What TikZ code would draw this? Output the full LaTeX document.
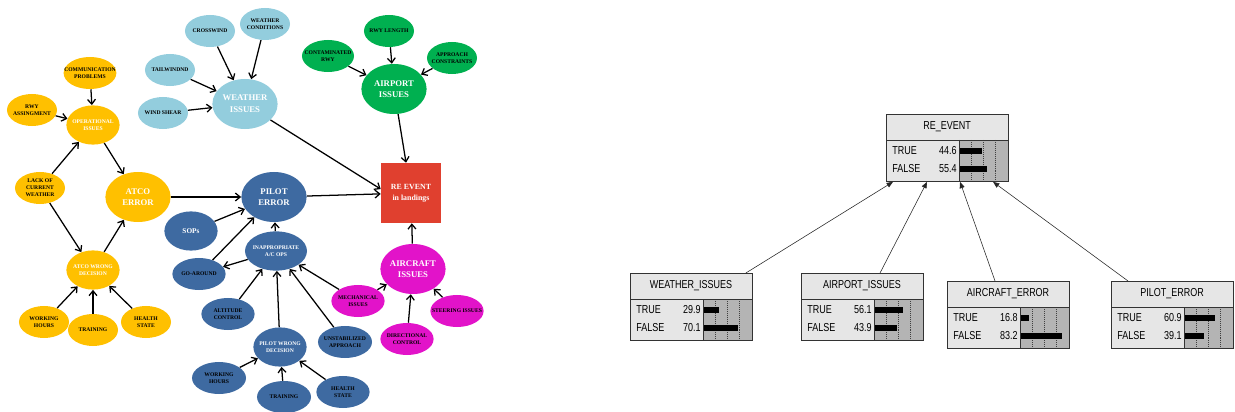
\documentclass[tikz,border=0pt]{standalone}
\usepackage{fontspec}
\setmainfont{Liberation Serif}
\newfontfamily\bnfont[FakeStretch=0.78]{Liberation Sans}
\usetikzlibrary{shapes.geometric,arrows.meta,positioning}

\definecolor{atcocol}{HTML}{FFC000}
\definecolor{weathercol}{HTML}{93CDDD}
\definecolor{airportcol}{HTML}{00B050}
\definecolor{pilotcol}{HTML}{3E6AA1}
\definecolor{aircraftcol}{HTML}{E213C9}
\definecolor{eventcol}{HTML}{E0402F}
\definecolor{bnlight}{HTML}{E6E6E6}
\definecolor{bndark}{HTML}{B4B4B4}

% probability table: name, top left corner, title, TRUE, FALSE
\newcommand{\probtable}[5]{%
  \begin{scope}[shift={#2}]
    \node[draw=black!80,line width=0.6pt,minimum width=3.05cm,minimum height=1.675cm,inner sep=0,anchor=north west] (#1) at (0,0) {};
    \fill[bnlight] (0,0) rectangle (122,67);
    \fill[bndark] (73,26) rectangle (122,67);
    \foreach \f in {12.25,24.5,36.75}
      \draw[densely dotted,black!75,line width=0.4pt] (73+\f,26) -- (73+\f,67);
    \fill (74,34) rectangle ({74+0.49*#4},40);
    \fill (74,52) rectangle ({74+0.49*#5},58);
    \node[bntext] at (61,13) {#3};
    \node[bntext,anchor=west] at (6,37) {TRUE};
    \node[bntext,anchor=east] at (71,37) {#4};
    \node[bntext,anchor=west] at (6,55) {FALSE};
    \node[bntext,anchor=east] at (71,55) {#5};
    \draw[black!80,line width=0.6pt] (0,0) rectangle (122,67);
    \draw[black!80,line width=0.6pt] (0,26) -- (122,26);
    \draw[black!80,line width=0.6pt] (73,26) -- (73,67);
  \end{scope}}

\begin{document}
\begin{tikzpicture}[x=0.025cm,y=-0.025cm,
    cause/.style={ellipse,inner sep=-6pt,minimum width=1.25cm,minimum height=0.8cm,align=center,
      font=\fontsize{4}{5}\selectfont\bfseries,text=black},
    factor/.style={ellipse,inner sep=-6pt,minimum width=1.33cm,minimum height=0.98cm,align=center,
      font=\fontsize{4}{5}\selectfont\bfseries,text=white},
    issue/.style={ellipse,inner sep=-6pt,minimum width=1.63cm,minimum height=1.25cm,align=center,
      font=\fontsize{6.2}{8.3}\selectfont\bfseries,text=white},
    arr/.style={-{Straight Barb[length=3.4pt,width=5.6pt]},line width=0.9pt},
    bnarr/.style={-{Triangle[length=4.5pt,width=3.6pt]},line width=0.4pt,black!85},
    bntext/.style={inner sep=0,font=\bnfont\fontsize{8.2}{9}\selectfont,text=black}]
	\useasboundingbox (0,0) rectangle (1235,412);
	% ATCO side
	\node[cause,fill=atcocol,minimum width=1.32cm] (comm) at (90,73) {COMMUNICATION\\PROBLEMS};
	\node[cause,fill=atcocol] (rwya) at (32,110) {RWY\\ASSINGMENT};
	\node[factor,fill=atcocol] (opis) at (93,125) {OPERATIONAL\\ISSUES};
	\node[cause,fill=atcocol] (lack) at (40,188) {LACK OF\\CURRENT\\WEATHER};
	\node[issue,fill=atcocol] (atco) at (138,197) {ATCO\\ERROR};
	\node[factor,fill=atcocol] (atcowd) at (93,270) {ATCO WRONG\\DECISION};
	\node[cause,fill=atcocol] (awh) at (44,322) {WORKING\\HOURS};
	\node[cause,fill=atcocol] (atr) at (93,330) {TRAINING};
	\node[cause,fill=atcocol] (ahs) at (146,322) {HEALTH\\STATE};
	% weather
	\node[cause,fill=weathercol] (cross) at (210,31) {CROSSWIND};
	\node[cause,fill=weathercol] (wcond) at (265,24) {WEATHER\\CONDITIONS};
	\node[cause,fill=weathercol] (tail) at (170,70) {TAILWINDND};
	\node[cause,fill=weathercol] (shear) at (163,113) {WIND SHEAR};
	\node[issue,fill=weathercol] (wiss) at (245,104) {WEATHER\\ISSUES};
	% airport
	\node[cause,fill=airportcol,minimum width=1.3cm] (contam) at (328,56) {CONTAMINATED\\RWY};
	\node[cause,fill=airportcol] (rwyl) at (389,31) {RWY LENGTH};
	\node[cause,fill=airportcol] (appr) at (452,58) {APPROACH\\CONSTRAINTS};
	\node[issue,fill=airportcol] (aiss) at (394,89) {AIRPORT\\ISSUES};
	% event
	\node[fill=eventcol,minimum size=1.5cm,align=center,text=white,font=\fontsize{5.6}{8}\selectfont\bfseries] (re) at (411,193) {RE EVENT\\in landings};
	% pilot side
	\node[issue,fill=pilotcol] (perr) at (274,197) {PILOT\\ERROR};
	\node[factor,fill=pilotcol,font=\fontsize{5.2}{6}\selectfont\bfseries] (sops) at (191,231) {SOPs};
	\node[factor,fill=pilotcol,minimum width=1.55cm] (inap) at (276,251) {INAPPROPRIATE\\A/C OPS};
	\node[cause,fill=pilotcol,minimum width=1.33cm] (goar) at (199,274) {GO-AROUND};
	\node[cause,fill=pilotcol,minimum width=1.33cm] (alt) at (228,314) {ALTITUDE\\CONTROL};
	\node[factor,fill=pilotcol] (pwd) at (280,347) {PILOT WRONG\\DECISION};
	\node[cause,fill=pilotcol,minimum width=1.35cm] (unst) at (345,342) {UNSTABILIZED\\APPROACH};
	\node[cause,fill=pilotcol,minimum width=1.35cm] (pwh) at (219,378) {WORKING\\HOURS};
	\node[cause,fill=pilotcol,minimum width=1.35cm] (ptr) at (284,397) {TRAINING};
	\node[cause,fill=pilotcol,minimum width=1.33cm] (phs) at (343,392) {HEALTH\\STATE};
	% aircraft
	\node[issue,fill=aircraftcol] (acis) at (413,269) {AIRCRAFT\\ISSUES};
	\node[cause,fill=aircraftcol,minimum width=1.33cm] (mech) at (358,301) {MECHANICAL\\ISSUES};
	\node[cause,fill=aircraftcol,minimum width=1.33cm] (steer) at (457,311) {STEERING ISSUES};
	\node[cause,fill=aircraftcol,minimum width=1.33cm] (dirc) at (407,339) {DIRECTIONAL\\CONTROL};
	% links
	\draw[arr] (comm) -- (opis);
	\draw[arr] (rwya) -- (opis);
	\draw[arr] (lack) -- (opis);
	\draw[arr] (lack) -- (atcowd);
	\draw[arr] (opis) -- (atco);
	\draw[arr] (atcowd) -- (atco);
	\draw[arr] (awh) -- (atcowd);
	\draw[arr] (atr) -- (atcowd);
	\draw[arr] (ahs) -- (atcowd);
	\draw[arr] (atco) -- (perr);
	\draw[arr] (cross) -- (wiss);
	\draw[arr] (wcond) -- (wiss);
	\draw[arr] (tail) -- (wiss);
	\draw[arr] (shear) -- (wiss);
	\draw[arr] (wiss) -- ([yshift=2.8pt]re.west);
	\draw[arr] (contam) -- (aiss);
	\draw[arr] (rwyl) -- (aiss);
	\draw[arr] (appr) -- (aiss);
	\draw[arr] (aiss) -- (re);
	\draw[arr] (perr) -- (re);
	\draw[arr] (acis) -- (re);
	\draw[arr] (sops) -- (perr);
	\draw[arr] (goar) -- (perr);
	\draw[arr] (inap) -- (perr);
	\draw[arr] (inap) -- (goar);
	\draw[arr] (alt) -- (inap);
	\draw[arr] (pwd) -- (inap);
	\draw[arr] (unst) -- (inap);
	\draw[arr] (mech) -- (inap);
	\draw[arr] (mech) -- (acis);
	\draw[arr] (pwh) -- (pwd);
	\draw[arr] (ptr) -- (pwd);
	\draw[arr] (phs) -- (pwd);
	\draw[arr] (dirc) -- (acis);
	\draw[arr] (steer) -- (acis);
	% network with probabilities
	\probtable{bre}{(886,114)}{RE\_EVENT}{44.6}{55.4}
	\probtable{bwi}{(630,273)}{WEATHER\_ISSUES}{29.9}{70.1}
	\probtable{bai}{(801,273)}{AIRPORT\_ISSUES}{56.1}{43.9}
	\probtable{bae}{(947,281)}{AIRCRAFT\_ERROR}{16.8}{83.2}
	\probtable{bpe}{(1111,281)}{PILOT\_ERROR}{60.9}{39.1}
	\draw[bnarr] ([xshift=-0.175cm]bwi.north east) -- ([xshift=0.175cm]bre.south west);
	\draw[bnarr] ([xshift=1.975cm]bai.north west) -- ([xshift=1.025cm]bre.south west);
	\draw[bnarr] ([xshift=1.2cm]bae.north west) -- ([xshift=1.85cm]bre.south west);
	\draw[bnarr] ([xshift=0.425cm]bpe.north west) -- ([xshift=2.675cm]bre.south west);
\end{tikzpicture}
\end{document}
